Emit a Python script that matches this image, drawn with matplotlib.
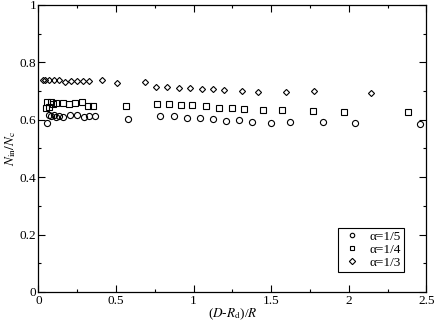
import matplotlib
matplotlib.use('Agg')
import matplotlib.pyplot as plt
from matplotlib.ticker import MultipleLocator

# alpha = 1/5 (circles)
x_a5 = [0.054, 0.069, 0.084, 0.100, 0.116, 0.136, 0.161, 0.207, 0.247, 0.291, 0.329, 0.368,
        0.577, 0.786, 0.872, 0.958, 1.040, 1.122, 1.208, 1.292, 1.374, 1.499, 1.624, 1.831,
        2.039, 2.461]
y_a5 = [0.588, 0.617, 0.613, 0.615, 0.611, 0.613, 0.610, 0.617, 0.617, 0.608, 0.613, 0.613,
        0.602, 0.613, 0.613, 0.605, 0.605, 0.602, 0.596, 0.599, 0.592, 0.590, 0.593, 0.592,
        0.588, 0.585]

# alpha = 1/4 (squares)
x_a4 = [0.048, 0.058, 0.071, 0.084, 0.097, 0.116, 0.157, 0.196, 0.237, 0.280, 0.318, 0.355,
        0.562, 0.762, 0.842, 0.917, 0.993, 1.079, 1.163, 1.245, 1.326, 1.449, 1.568, 1.772,
        1.972, 2.379]
y_a4 = [0.641, 0.662, 0.643, 0.662, 0.655, 0.659, 0.657, 0.655, 0.657, 0.660, 0.649, 0.649,
        0.646, 0.654, 0.654, 0.652, 0.652, 0.649, 0.641, 0.640, 0.638, 0.634, 0.634, 0.632,
        0.628, 0.628]

# alpha = 1/3 (diamonds)
x_a3 = [0.028, 0.045, 0.067, 0.103, 0.136, 0.174, 0.211, 0.250, 0.286, 0.323, 0.411, 0.506,
        0.689, 0.760, 0.831, 0.904, 0.975, 1.051, 1.126, 1.197, 1.309, 1.417, 1.596, 1.776,
        2.145]
y_a3 = [0.737, 0.737, 0.740, 0.737, 0.740, 0.733, 0.736, 0.736, 0.735, 0.735, 0.737, 0.729,
        0.730, 0.715, 0.715, 0.710, 0.710, 0.707, 0.706, 0.704, 0.700, 0.697, 0.697, 0.699,
        0.693]

plt.rcParams['font.family'] = ['Liberation Serif', 'DejaVu Serif']
plt.rcParams['mathtext.fontset'] = 'stix'

fig = plt.figure(figsize=(4.36, 3.23), dpi=100)
ax = fig.add_axes([0.088, 0.096, 0.89, 0.889])

style = dict(linestyle='none', markerfacecolor='none', markeredgecolor='black',
             markeredgewidth=0.8)
ax.plot(x_a5, y_a5, marker='o', markersize=4.4, label='α=1/5', **style)
ax.plot(x_a4, y_a4, marker='s', markersize=4.0, label='α=1/4', **style)
ax.plot(x_a3, y_a3, marker='D', markersize=3.1, label='α=1/3', **style)

ax.set_xlim(0, 2.5)
ax.set_ylim(0, 1)
ax.xaxis.set_major_locator(MultipleLocator(0.5))
ax.xaxis.set_minor_locator(MultipleLocator(0.25))
ax.yaxis.set_major_locator(MultipleLocator(0.2))
ax.yaxis.set_minor_locator(MultipleLocator(0.1))
ax.set_xticks([0, 0.5, 1, 1.5, 2, 2.5], ['0', '0.5', '1', '1.5', '2', '2.5'])
ax.set_yticks([0, 0.2, 0.4, 0.6, 0.8, 1], ['0', '0.2', '0.4', '0.6', '0.8', '1'])
ax.tick_params(which='both', direction='in', top=True, right=True, labelsize=9.5, width=0.8)
ax.tick_params(which='major', length=5, pad=2.5)
ax.tick_params(axis='y', which='major', pad=1.5)
ax.tick_params(which='minor', length=2.5)
for s in ax.spines.values():
    s.set_linewidth(0.9)

ax.set_xlabel(r'($D$-$R_{\rm d}$)/$R$', fontsize=9.5, labelpad=-0.5)
ax.set_ylabel(r'$N_{\rm in}/N_{\rm c}$', fontsize=9.5, labelpad=1)

leg = ax.legend(loc='lower right', bbox_to_anchor=(0.942, 0.069), borderaxespad=0,
                fontsize=9.5, fancybox=False, edgecolor='black', framealpha=1,
                handlelength=1.6, handletextpad=0.5, labelspacing=0.05,
                borderpad=0.25, numpoints=1)
leg.get_frame().set_linewidth(0.8)
for h in leg.legend_handles:
    h.set_markersize(3.2)

fig.savefig('out.png', dpi=100)
